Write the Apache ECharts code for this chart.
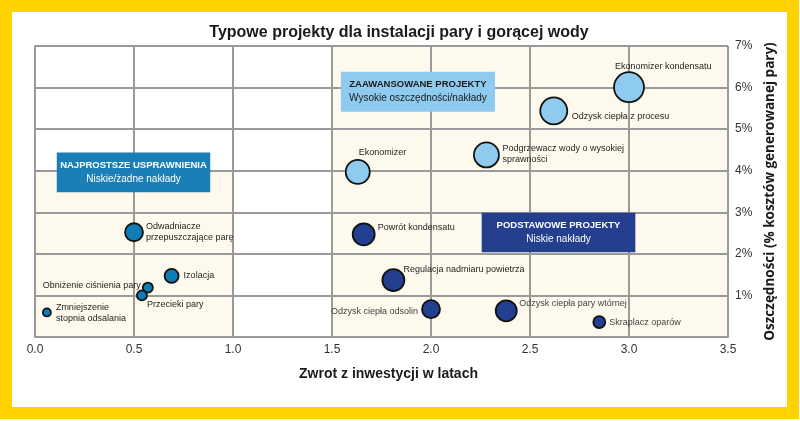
<!DOCTYPE html>
<html><head><meta charset="utf-8">
<script src="https://cdn.jsdelivr.net/npm/echarts@6/dist/echarts.min.js"></script>
<style>html,body{margin:0;padding:0;background:#fff}#c{width:800px;height:421px}</style>
</head><body><div id="c"></div>
<script>
// ---- data ----
const xTickLabels = ['0.0','0.5','1.0','1.5','2.0','2.5','3.0','3.5'];
const yTickLabels = ['','1%','2%','3%','4%','5%','6%','7%'];

const advNames = ['Ekonomizer kondensatu','Odzysk ciepła z procesu','Podgrzewacz wody o wysokiej\nsprawności','Ekonomizer'];
const advX = [3.0, 2.62, 2.28, 1.63];
const advY = [6.01, 5.44, 4.38, 3.97];
const advSize = [30, 27, 25, 24];

const basNames = ['Powrót kondensatu','Regulacja nadmiaru powietrza','Odzysk ciepła odsolin','Odzysk ciepła pary wtórnej','Skraplacz oparów'];
const basX = [1.66, 1.81, 2.0, 2.38, 2.85];
const basY = [2.47, 1.37, 0.67, 0.63, 0.36];
const basSize = [22, 22, 18, 21, 12];

const simNames = ['Odwadniacze\nprzepuszczające parę','Izolacja','Obniżenie ciśnienia pary','Przecieki pary','Zmniejszenie\nstopnia odsalania'];
const simX = [0.5, 0.69, 0.57, 0.54, 0.06];
const simY = [2.52, 1.47, 1.19, 1.0, 0.59];
const simSize = [18, 14, 10, 10, 8];

const zoneTitles = ['NAJPROSTSZE USPRAWNIENIA','ZAAWANSOWANE PROJEKTY','PODSTAWOWE PROJEKTY'];
const zoneSubs = ['Niskie/żadne nakłady','Wysokie oszczędności/nakłady','Niskie nakłady'];
const zoneX0 = [0.11, 1.545, 2.256];
const zoneX1 = [0.885, 2.323, 3.032];
const zoneY0 = [3.48, 5.42, 2.04];
const zoneY1 = [4.44, 6.38, 2.99];

// ---- styles ----
const SANS = '"Liberation Sans", Arial, sans-serif';
const advLbl = [[-14,-21,'left'],[18,6,'left'],[16,-1,'left'],[1,-19,'left']];
const basLbl = [[14,-7,'left'],[10,-11,'left'],[-13,2,'right'],[13,-7,'left'],[10,0,'left']];
const simLbl = [[12,0,'left'],[12,0,'left'],[-7,-2,'right'],[5,9,'left'],[9,1,'left']];
const zoneColors = ['#1a7fb6','#8fcbee','#233f8e'];
const zoneText = ['#ffffff','#1a1a1a','#ffffff'];

function build(names, xs, ys, ss, lbl, lightTxt) {
  return names.map((n, i) => ({
    name: n,
    value: [xs[i], ys[i], ss[i]],
    label: {
      offset: [lbl[i][0], lbl[i][1]],
      align: lbl[i][2],
      color: (lightTxt && lightTxt.indexOf(i) >= 0) ? '#444' : '#1e1e1e'
    }
  }));
}

const baseLabel = {
  show: true, position: 'inside', formatter: '{b}',
  fontFamily: SANS, fontSize: 9, lineHeight: 11,
  verticalAlign: 'middle', textBorderWidth: 0, color: '#1e1e1e'
};

function scatter(name, data, color) {
  return {
    type: 'scatter', name: name, data: data, z: 3,
    symbolSize: d => d[2],
    itemStyle: { color: color, borderColor: '#111', borderWidth: 1.8, opacity: 1 },
    label: baseLabel,
    emphasis: { disabled: true }
  };
}

const chart = echarts.init(document.getElementById('c'));
chart.setOption({
  animation: false,
  backgroundColor: '#ffffff',
  title: {
    text: 'Typowe projekty dla instalacji pary i gorącej wody',
    left: 394, top: 20, textAlign: 'center',
    textStyle: { fontFamily: SANS, fontWeight: 'bold', fontSize: 16, color: '#1a1a1a' }
  },
  graphic: [{
    type: 'rect', silent: true, z: 100,
    shape: { x: 6, y: 6, width: 787, height: 407 },
    style: { fill: null, stroke: '#ffd200', lineWidth: 12 }
  }],
  grid: { left: 35, right: 72, top: 46, bottom: 84, show: false },
  xAxis: {
    type: 'value', min: 0, max: 3.5, interval: 0.5, z: 1,
    name: 'Zwrot z inwestycji w latach', nameLocation: 'middle', nameGap: 30,
    nameTextStyle: { fontFamily: SANS, fontWeight: 'bold', fontSize: 14, color: '#1a1a1a', padding: [0, 0, 0, 14] },
    axisLine: { show: true, lineStyle: { color: '#9a9a9a', width: 2 } },
    axisTick: { show: false },
    splitLine: { show: true, lineStyle: { color: '#9a9a9a', width: 2 } },
    axisLabel: { margin: 7, fontFamily: SANS, fontSize: 12, color: '#333',
      formatter: v => xTickLabels[Math.round(v / 0.5)] }
  },
  yAxis: {
    type: 'value', min: 0, max: 7, interval: 1, position: 'right', z: 1,
    name: 'Oszczędności (% kosztów generowanej pary)', nameLocation: 'middle', nameGap: 34,
    nameTextStyle: { fontFamily: '"Open Sans", sans-serif', fontWeight: 'bold', fontSize: 13.5, color: '#1a1a1a' },
    axisLine: { show: true, lineStyle: { color: '#9a9a9a', width: 2 } },
    axisTick: { show: false },
    splitLine: { show: true, lineStyle: { color: '#9a9a9a', width: 2 } },
    axisLabel: { margin: 7, fontFamily: SANS, fontSize: 12, color: '#333',
      formatter: v => yTickLabels[Math.round(v)] }
  },
  series: [
    {
      type: 'scatter', data: [], silent: true,
      markArea: {
        silent: true, z: 0.5,
        itemStyle: { color: '#fdf9ec' },
        label: { show: false },
        data: [
          [{ coord: [0, 0] }, { coord: [1, 4] }],
          [{ coord: [1.5, 0] }, { coord: [3.5, 7] }]
        ]
      }
    },
    {
      type: 'scatter', data: [], silent: true,
      markArea: {
        silent: true, z: 4,
        data: zoneTitles.map((t, i) => [
          {
            coord: [zoneX0[i], zoneY1[i]],
            itemStyle: { color: zoneColors[i], borderWidth: 0 },
            label: {
              show: true, position: 'inside',
              formatter: '{t|' + t + '}\n{s|' + zoneSubs[i] + '}',
              rich: {
                t: { fontFamily: SANS, fontWeight: 'bold', fontSize: 9.5, lineHeight: 14, color: zoneText[i], align: 'center' },
                s: { fontFamily: SANS, fontSize: 10, lineHeight: 14, color: zoneText[i], align: 'center' }
              }
            }
          },
          { coord: [zoneX1[i], zoneY0[i]] }
        ])
      }
    },
    scatter('Zaawansowane', build(advNames, advX, advY, advSize, advLbl), '#8fcbee'),
    scatter('Podstawowe', build(basNames, basX, basY, basSize, basLbl, [2,3,4]), '#22408f'),
    scatter('Najprostsze', build(simNames, simX, simY, simSize, simLbl), '#0e7cb5')
  ]
});
</script>
</body></html>
